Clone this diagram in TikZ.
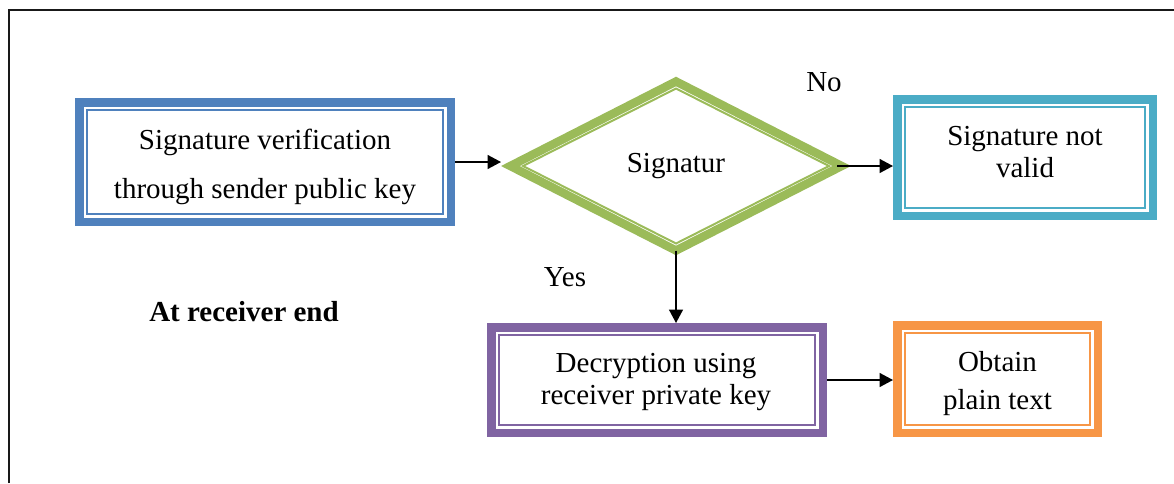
\documentclass[tikz,border=0pt]{standalone}
\usepackage{fontspec}
\setmainfont{Liberation Serif}
\usetikzlibrary{shapes.geometric,arrows.meta}
\definecolor{cblue}{HTML}{4F81BD}
\definecolor{cgreen}{HTML}{9BBB59}
\definecolor{cteal}{HTML}{4BACC6}
\definecolor{cpurple}{HTML}{8064A2}
\definecolor{corange}{HTML}{F79646}
\tikzset{
  framebox/.style={rectangle, draw=#1, line width=8.5pt, inner sep=0pt,
    path picture={\draw[#1, line width=2pt]
      ([shift={(7.55pt,-7.55pt)}]path picture bounding box.north west) rectangle
      ([shift={(-7.55pt,7.55pt)}]path picture bounding box.south east);}},
  txt/.style={font=\fontsize{29}{32}\selectfont, align=center, inner sep=0pt},
  conn/.style={line width=1.6pt, -{Triangle[length=13.5pt,width=14pt]}},
  outline/.style={line width=2pt, black!90},
}
\begin{document}
\begin{tikzpicture}[x=1pt, y=-1pt]
\useasboundingbox (0,0) rectangle (1174,483);
% outer frame
\draw[outline] (8.5,483) -- (8.5,9.5) -- (1174,9.5);

% boxes
\node[framebox=cblue, minimum width=371.5pt, minimum height=119.5pt] (b1) at (265,162) {};
\node[framebox=cteal, minimum width=255.5pt, minimum height=116.5pt] (b3) at (1025,157.5) {};
\node[framebox=cpurple, minimum width=331.5pt, minimum height=105.5pt] (b4) at (657,380) {};
\node[framebox=corange, minimum width=200.5pt, minimum height=107.5pt] (b5) at (997.5,379) {};

% box texts
\node[txt] (t1) at (265,167) {Signature verification\\[17pt]through sender public key};
\node[txt] (t3) at (1025,152.5) {Signature not\\valid};
\node[txt] (t4) at (656,382.1) {Decryption using\\receiver private key};
\node[txt] (t5) at (997.5,383.4) {Obtain\\[6pt]plain text};

% decision diamond
\node[diamond, aspect=2, draw=cgreen, line width=8.5pt, inner sep=0pt, outer sep=0pt,
      minimum width=331.2pt, minimum height=169pt, txt,
      path picture={\draw[cgreen, line width=2pt]
        ([yshift=-7pt]path picture bounding box.north) --
        ([xshift=-12.6pt]path picture bounding box.east) --
        ([yshift=7pt]path picture bounding box.south) --
        ([xshift=12.6pt]path picture bounding box.west) -- cycle;}]
      (d) at (676,166) {\raisebox{3pt}{Signatur}};
\coordinate (dW) at ([xshift=-9.4pt]d.west);
\coordinate (dE) at ([xshift=-4.6pt]d.east);

% labels
\node[txt] (no) at (824,82.2) {No};
\node[txt] (yes) at (565,277.2) {Yes};
\node[txt, font=\fontsize{29}{32}\selectfont\bfseries] (side) at (244,312) {At receiver end};

% connectors
\draw[conn] (b1.east) -- (b1.east -| dW);
\draw[conn] (dE) -- (dE -| b3.west);
\draw[conn] (d.south) -- (d.south |- b4.north);
\draw[conn] (b4.east) -- (b4.east -| b5.west);
\end{tikzpicture}
\end{document}
